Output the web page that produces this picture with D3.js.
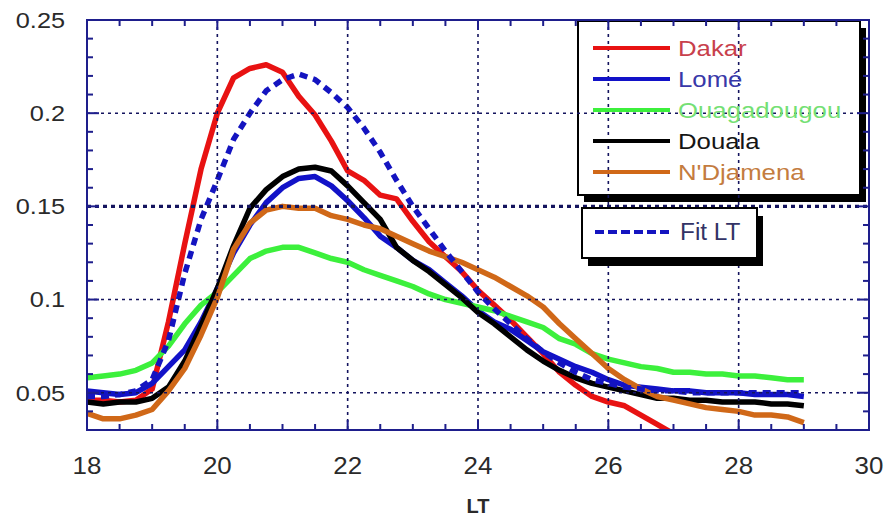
<!DOCTYPE html>
<html><head><meta charset="utf-8">
<script src="https://cdn.jsdelivr.net/npm/d3@7"></script>
<style>
html,body{margin:0;padding:0;background:#fff;}
svg{display:block;font-family:"Liberation Sans",Arial,sans-serif;}
</style></head>
<body><svg id="c" width="886" height="520"></svg>
<script>
// ---- data ----
const hours = [18,18.25,18.5,18.75,19,19.25,19.5,19.75,20,20.25,20.5,20.75,21,21.25,21.5,21.75,22,22.25,22.5,22.75,23,23.25,23.5,23.75,24,24.25,24.5,24.75,25,25.25,25.5,25.75,26,26.25,26.5,26.75,27,27.25,27.5,27.75,28,28.25,28.5,28.75,29];
const dakar = [0.046,0.046,0.045,0.046,0.052,0.088,0.130,0.170,0.200,0.219,0.224,0.226,0.222,0.209,0.199,0.185,0.169,0.164,0.156,0.154,0.142,0.131,0.123,0.115,0.105,0.097,0.089,0.080,0.071,0.061,0.054,0.048,0.045,0.043,0.038,0.033,0.028,null,null,null,null,null,null,null,null];
const lome = [0.051,0.050,0.049,0.050,0.055,0.064,0.073,0.088,0.106,0.125,0.140,0.152,0.160,0.165,0.166,0.161,0.153,0.144,0.134,0.128,0.121,0.116,0.109,0.102,0.094,0.088,0.084,0.078,0.072,0.068,0.064,0.061,0.057,0.054,0.053,0.052,0.051,0.051,0.050,0.050,0.050,0.049,0.049,0.049,0.048];
const ouaga = [0.058,0.059,0.060,0.062,0.066,0.075,0.087,0.097,0.104,0.113,0.122,0.126,0.128,0.128,0.125,0.122,0.120,0.116,0.113,0.110,0.107,0.103,0.100,0.098,0.096,0.094,0.091,0.088,0.085,0.079,0.076,0.071,0.068,0.066,0.064,0.063,0.061,0.061,0.060,0.060,0.059,0.059,0.058,0.057,0.057];
const douala = [0.045,0.044,0.045,0.045,0.047,0.053,0.067,0.086,0.106,0.129,0.149,0.159,0.166,0.170,0.171,0.169,0.161,0.152,0.143,0.128,0.121,0.115,0.108,0.101,0.093,0.087,0.080,0.073,0.067,0.062,0.058,0.055,0.053,0.051,0.049,0.047,0.047,0.046,0.046,0.045,0.045,0.045,0.044,0.044,0.043];
const ndjamena = [0.039,0.036,0.036,0.038,0.041,0.051,0.063,0.081,0.101,0.127,0.141,0.148,0.150,0.149,0.149,0.145,0.143,0.140,0.138,0.134,0.130,0.126,0.123,0.120,0.116,0.112,0.107,0.102,0.096,0.087,0.079,0.071,0.063,0.057,0.052,0.048,0.046,0.044,0.042,0.041,0.040,0.038,0.038,0.037,0.034];
const fitLT = [0.048,0.048,0.049,0.051,0.057,0.078,0.114,0.143,0.164,0.186,0.200,0.212,0.218,0.221,0.218,0.211,0.203,0.192,0.179,0.164,0.150,0.138,0.126,0.115,0.104,0.095,0.087,0.079,0.072,0.066,0.061,0.057,0.055,0.053,0.052,0.051,0.051,0.050,0.050,0.050,0.050,0.050,0.050,0.050,0.050];
const seriesNames = ["Dakar","Lomé","Ouagadougou","Douala","N'Djamena"];
const fitName = "Fit LT";
const xTicks = [18,20,22,24,26,28,30];
const yTicks = [0.05,0.1,0.15,0.2,0.25];
const xAxisTitle = "LT";

// ---- styles ----
const lineColors = ["#e81212","#1212c8","#3cf03c","#000000","#d06818"];
const textColors = ["#c8404c","#3838a8","#74e074","#151515","#c47c40"];
const fitColor = "#1414c0";
const navy = "#1e1e8c";
const gridColor = "#14145e";

const svg = d3.select("#c");
const x = d3.scaleLinear().domain([18,30]).range([87,869]);
const y = d3.scaleLinear().domain([0.03,0.25]).range([430,20]);
const X0 = x.range()[0], X1 = x.range()[1], Y0 = y.range()[0], Y1 = y.range()[1];

svg.append("rect").attr("width",886).attr("height",520).attr("fill","#fff");

// legend box 1 (under grid)
const lb = {x:578,y:21,w:282,h:174};
svg.append("rect").attr("x",lb.x+6).attr("y",lb.y+7).attr("width",lb.w).attr("height",lb.h).attr("fill","#000");
svg.append("rect").attr("x",lb.x).attr("y",lb.y).attr("width",lb.w).attr("height",lb.h).attr("fill","#fff").attr("stroke","#000").attr("stroke-width",2);

// data
svg.append("clipPath").attr("id","pc").append("rect")
  .attr("x",X0).attr("y",Y1).attr("width",X1-X0).attr("height",Y0-Y1);
const line = d3.line().defined(d=>d[1]!=null).x(d=>x(d[0])).y(d=>y(d[1]));
const all = [dakar,lome,ouaga,douala,ndjamena];
const gData = svg.append("g").attr("clip-path","url(#pc)");
all.forEach((vals,i)=>{
  gData.append("path").datum(hours.map((h,k)=>[h,vals[k]]))
    .attr("d",line).attr("fill","none").attr("stroke",lineColors[i])
    .attr("stroke-width",5.5).attr("stroke-linejoin","round");
});
gData.append("path").datum(hours.map((h,k)=>[h,fitLT[k]]))
  .attr("d",line).attr("fill","none").attr("stroke",fitColor)
  .attr("stroke-width",5.5).attr("stroke-dasharray","8,6");

// grid
const gGrid = svg.append("g");
xTicks.filter(v=>v>18&&v<30).forEach(v=>{
  gGrid.append("line").attr("x1",x(v)).attr("x2",x(v)).attr("y1",Y1).attr("y2",Y0)
    .attr("stroke",gridColor).attr("stroke-width",1.6).attr("stroke-dasharray","3,4");
});
yTicks.filter(v=>v<0.25).forEach(v=>{
  const bold = Math.abs(v-0.15)<1e-9;
  gGrid.append("line").attr("x1",X0).attr("x2",X1).attr("y1",y(v)).attr("y2",y(v))
    .attr("stroke",gridColor).attr("stroke-width",bold?3.2:1.6).attr("stroke-dasharray",bold?"4,4":"3,4");
});

// legend box 2 (over grid)
const lb2 = {x:582,y:208,w:175,h:50};
svg.append("rect").attr("x",lb2.x+6).attr("y",lb2.y+8).attr("width",lb2.w).attr("height",lb2.h).attr("fill","#000");
svg.append("rect").attr("x",lb2.x).attr("y",lb2.y).attr("width",lb2.w).attr("height",lb2.h).attr("fill","#fff").attr("stroke","#000").attr("stroke-width",2);

// legend entries
const rowY = [48,79,110,141,172];
seriesNames.forEach((n,i)=>{
  svg.append("line").attr("x1",593).attr("x2",670).attr("y1",rowY[i]).attr("y2",rowY[i])
    .attr("stroke",lineColors[i]).attr("stroke-width",4);
  svg.append("text").attr("transform",`translate(678,${rowY[i]}) scale(1.12,1)`)
    .attr("dy","0.36em").attr("font-size",23).attr("fill",textColors[i]).text(n);
});
svg.append("line").attr("x1",595).attr("x2",672).attr("y1",232).attr("y2",232)
  .attr("stroke",fitColor).attr("stroke-width",4).attr("stroke-dasharray","9,4");
svg.append("text").attr("transform","translate(680,232) scale(1.06,1)")
  .attr("dy","0.36em").attr("font-size",23).attr("fill","#333366").text(fitName);

// axes frame
const gAx = svg.append("g");
gAx.append("rect").attr("x",X0).attr("y",Y1).attr("width",X1-X0).attr("height",Y0-Y1)
  .attr("fill","none").attr("stroke",navy).attr("stroke-width",2);

function ticksX(yPos, dir){
  d3.range(18,30.01,0.5).forEach(v=>{
    const major = Math.abs(v/2-Math.round(v/2))<1e-9;
    const L = major?10:6;
    gAx.append("line").attr("x1",x(v)).attr("x2",x(v)).attr("y1",yPos).attr("y2",yPos+dir*L)
      .attr("stroke",navy).attr("stroke-width",2);
  });
}
function ticksY(xPos, dir){
  d3.range(3,25.01,1).map(v=>v/100).forEach(v=>{
    const major = Math.abs(v*20-Math.round(v*20))<1e-9;
    const L = major?12:6;
    gAx.append("line").attr("x1",xPos).attr("x2",xPos+dir*L).attr("y1",y(v)).attr("y2",y(v))
      .attr("stroke",navy).attr("stroke-width",2);
  });
}
ticksX(Y0,-1); ticksX(Y1,1);
ticksY(X0,1); ticksY(X1,-1);

// tick labels
xTicks.forEach(v=>{
  svg.append("text").attr("transform",`translate(${x(v)},465) scale(1.08,1)`)
    .attr("text-anchor","middle").attr("dy","0.36em").attr("font-size",24).attr("fill","#2a2a2a")
    .text(d3.format("d")(v));
});
yTicks.forEach(v=>{
  svg.append("text").attr("transform",`translate(65,${y(v)}) scale(1.15,1)`)
    .attr("text-anchor","end").attr("dy","0.36em").attr("font-size",22).attr("fill","#2a2a2a")
    .text(d3.format("~g")(v));
});
svg.append("text").attr("x",(X0+X1)/2).attr("y",506).attr("text-anchor","middle")
  .attr("dy","0.36em").attr("font-size",20).attr("font-weight","bold").attr("fill","#2a2a2a").text(xAxisTitle);
</script></body></html>
